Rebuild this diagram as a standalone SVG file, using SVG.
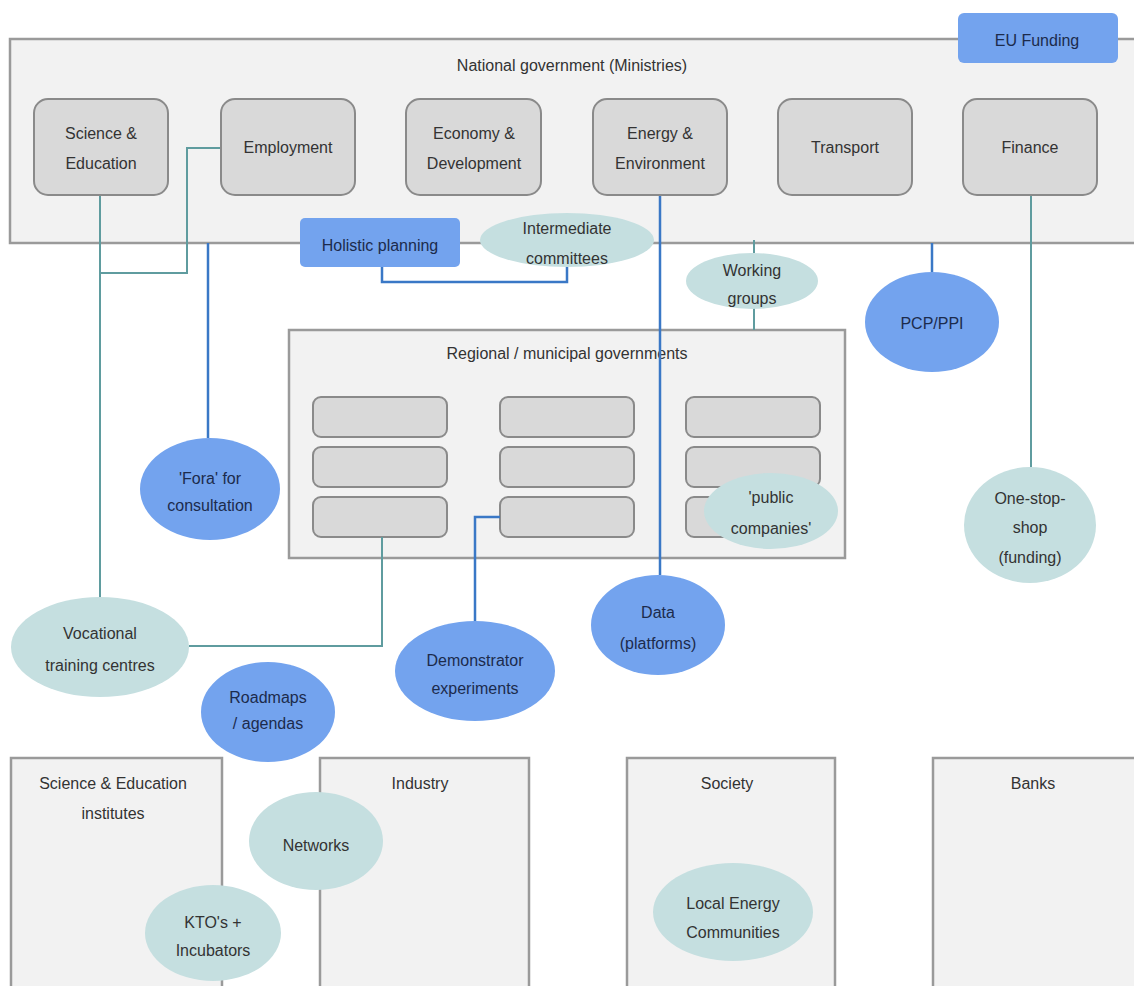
<svg xmlns="http://www.w3.org/2000/svg" width="1134" height="986" viewBox="0 0 1134 986">
<style>
.cont{fill:#f2f2f2;stroke:#9a9a9a;stroke-width:2.5}
.min{fill:#d9d9d9;stroke:#8a8a8a;stroke-width:2}
.sub{fill:#d9d9d9;stroke:#8a8a8a;stroke-width:2}
.blue{fill:#73a3ee}
.teal{fill:#c5dfe0}
.lb{stroke:#3a78c6;stroke-width:2.5;fill:none}
.lt{stroke:#5f9c9f;stroke-width:2;fill:none}
text{font-family:"Liberation Sans",Arial,sans-serif;font-size:16px;fill:#333;text-anchor:middle;dominant-baseline:central}
.dk{fill:#1c2b4c}
</style>
<rect width="1134" height="986" fill="#ffffff"/>
<g id="national-government">
<rect class="cont" x="10" y="39" width="1140" height="204"/>
<text x="572" y="65">National government (Ministries)</text>
</g>
<g id="regional-governments">
<rect class="cont" x="289" y="330" width="556" height="228"/>
<text x="567" y="353">Regional / municipal governments</text>
<rect class="sub" x="313" y="397" width="134" height="40" rx="8"/>
<rect class="sub" x="313" y="447" width="134" height="40" rx="8"/>
<rect class="sub" x="313" y="497" width="134" height="40" rx="8"/>
<rect class="sub" x="500" y="397" width="134" height="40" rx="8"/>
<rect class="sub" x="500" y="447" width="134" height="40" rx="8"/>
<rect class="sub" x="500" y="497" width="134" height="40" rx="8"/>
<rect class="sub" x="686" y="397" width="134" height="40" rx="8"/>
<rect class="sub" x="686" y="447" width="134" height="40" rx="8"/>
<rect class="sub" x="686" y="497" width="134" height="40" rx="8"/>
</g>
<g id="science-institutes">
<rect class="cont" x="11" y="758" width="211" height="240"/>
<text x="113" y="783">Science &amp; Education</text>
<text x="113" y="813">institutes</text>
</g>
<g id="industry">
<rect class="cont" x="320" y="758" width="209" height="240"/>
<text x="420" y="783">Industry</text>
</g>
<g id="society">
<rect class="cont" x="627" y="758" width="208" height="240"/>
<text x="727" y="783">Society</text>
</g>
<g id="banks">
<rect class="cont" x="933" y="758" width="220" height="240"/>
<text x="1033" y="783">Banks</text>
</g>
<g id="connectors">
<path class="lt" d="M100 195 V597"/>
<path class="lt" d="M100 273 H187 V148 H221"/>
<path class="lb" d="M208 243 V438"/>
<path class="lb" d="M382 267 V282 H567 V267"/>
<path class="lb" d="M660 195 V575"/>
<path class="lt" d="M1031 195 V467"/>
<path class="lt" d="M754 240 V253 M754 308 V330"/>
<path class="lb" d="M932 243 V272"/>
<path class="lb" d="M500 517 H475 V622"/>
<path class="lt" d="M382 537 V646 H189"/>
</g>
<g id="eu-funding">
<rect class="blue" x="958" y="13" width="160" height="50" rx="6"/>
<text class="dk" x="1037" y="40">EU Funding</text>
</g>
<g id="min-science">
<rect class="min" x="34" y="99" width="134" height="96" rx="14"/>
<text x="101" y="133">Science &amp;</text>
<text x="101" y="163">Education</text>
</g>
<g id="min-employment">
<rect class="min" x="221" y="99" width="134" height="96" rx="14"/>
<text x="288" y="147">Employment</text>
</g>
<g id="min-economy">
<rect class="min" x="406" y="99" width="135" height="96" rx="14"/>
<text x="474" y="133">Economy &amp;</text>
<text x="474" y="163">Development</text>
</g>
<g id="min-energy">
<rect class="min" x="593" y="99" width="134" height="96" rx="14"/>
<text x="660" y="133">Energy &amp;</text>
<text x="660" y="163">Environment</text>
</g>
<g id="min-transport">
<rect class="min" x="778" y="99" width="134" height="96" rx="14"/>
<text x="845" y="147">Transport</text>
</g>
<g id="min-finance">
<rect class="min" x="963" y="99" width="134" height="96" rx="14"/>
<text x="1030" y="147">Finance</text>
</g>
<g id="holistic-planning">
<rect class="blue" x="300" y="218" width="160" height="49" rx="5"/>
<text class="dk" x="380" y="245">Holistic planning</text>
</g>
<g id="intermediate-committees">
<ellipse class="teal" cx="567" cy="240" rx="87" ry="27"/>
<text x="567" y="228">Intermediate</text>
<text x="567" y="258">committees</text>
</g>
<g id="working-groups">
<ellipse class="teal" cx="752" cy="281" rx="66" ry="28"/>
<text x="752" y="270">Working</text>
<text x="752" y="298">groups</text>
</g>
<g id="pcp-ppi">
<ellipse class="blue" cx="932" cy="322" rx="67" ry="50"/>
<text class="dk" x="932" y="323">PCP/PPI</text>
</g>
<g id="public-companies">
<ellipse class="teal" cx="771" cy="511" rx="67" ry="38"/>
<text x="771" y="497">'public</text>
<text x="771" y="528">companies'</text>
</g>
<g id="one-stop-shop">
<ellipse class="teal" cx="1030" cy="525" rx="66" ry="58"/>
<text x="1030" y="498">One-stop-</text>
<text x="1030" y="527">shop</text>
<text x="1030" y="557">(funding)</text>
</g>
<g id="fora">
<ellipse class="blue" cx="210" cy="489" rx="70" ry="51"/>
<text class="dk" x="210" y="478">'Fora' for</text>
<text class="dk" x="210" y="505">consultation</text>
</g>
<g id="data-platforms">
<ellipse class="blue" cx="658" cy="625" rx="67" ry="50"/>
<text class="dk" x="658" y="612">Data</text>
<text class="dk" x="658" y="643">(platforms)</text>
</g>
<g id="vocational">
<ellipse class="teal" cx="100" cy="647" rx="89" ry="50"/>
<text x="100" y="633">Vocational</text>
<text x="100" y="665">training centres</text>
</g>
<g id="demonstrator">
<ellipse class="blue" cx="475" cy="671" rx="80" ry="50"/>
<text class="dk" x="475" y="660">Demonstrator</text>
<text class="dk" x="475" y="688">experiments</text>
</g>
<g id="roadmaps">
<ellipse class="blue" cx="268" cy="712" rx="67" ry="50"/>
<text class="dk" x="268" y="697">Roadmaps</text>
<text class="dk" x="268" y="723">/ agendas</text>
</g>
<g id="networks">
<ellipse class="teal" cx="316" cy="841" rx="67" ry="49"/>
<text x="316" y="845">Networks</text>
</g>
<g id="kto">
<ellipse class="teal" cx="213" cy="933" rx="68" ry="48"/>
<text x="213" y="922">KTO's +</text>
<text x="213" y="950">Incubators</text>
</g>
<g id="local-energy">
<ellipse class="teal" cx="733" cy="912" rx="80" ry="49"/>
<text x="733" y="903">Local Energy</text>
<text x="733" y="932">Communities</text>
</g>
</svg>
